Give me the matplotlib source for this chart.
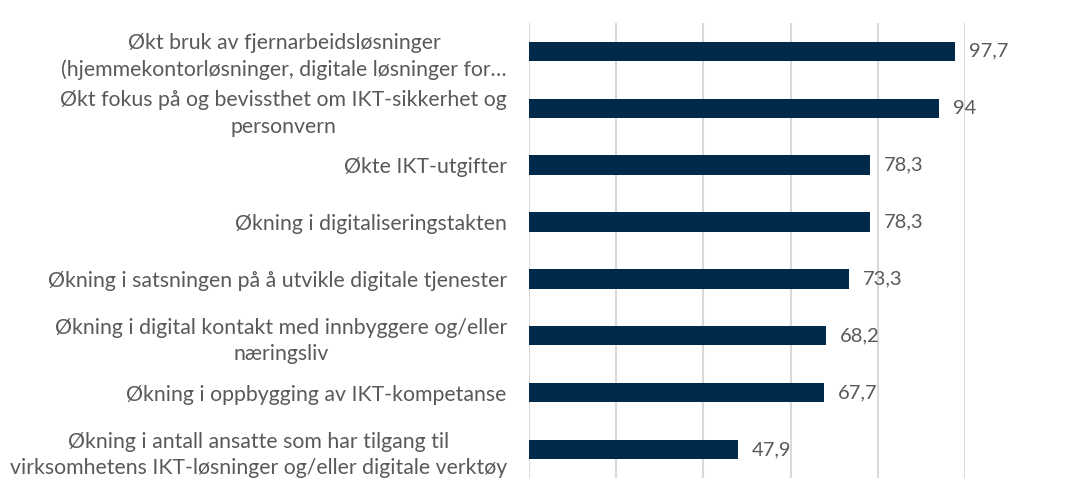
import matplotlib.pyplot as plt

# categories top to bottom, as in the reference
categories = [
    "Økt bruk av fjernarbeidsløsninger\n(hjemmekontorløsninger, digitale løsninger for…",
    "Økt fokus på og bevissthet om IKT-sikkerhet og\npersonvern",
    "Økte IKT-utgifter",
    "Økning i digitaliseringstakten",
    "Økning i satsningen på å utvikle digitale tjenester",
    "Økning i digital kontakt med innbyggere og/eller\nnæringsliv",
    "Økning i oppbygging av IKT-kompetanse",
    "Økning i antall ansatte som har tilgang til\nvirksomhetens IKT-løsninger og/eller digitale verktøy",
]
values = [97.7, 94, 78.3, 78.3, 73.3, 68.2, 67.7, 47.9]
value_labels = ["97,7", "94", "78,3", "78,3", "73,3", "68,2", "67,7", "47,9"]

BAR_COLOR = "#002a4c"
TEXT_COLOR = "#595959"
GRID_COLOR = "#d9d9d9"

plt.rcParams["font.family"] = ["Lato", "DejaVu Sans"]

fig = plt.figure(figsize=(10.71, 4.92), dpi=100)
ax = fig.add_axes([0.494, 0.0285, 0.407, 0.925])

ypos = list(range(len(categories)))
ax.barh(ypos, values, height=0.34, color=BAR_COLOR, zorder=3)

for y, v, lab in zip(ypos, values, value_labels):
    ax.annotate(lab, (v, y), xytext=(10, 0), textcoords="offset points",
                va="center", ha="left", fontsize=14.5, color=TEXT_COLOR)

ax.set_xlim(0, 100)
ax.set_ylim(len(categories) - 0.5, -0.5)
ax.set_xticks(range(0, 101, 20))
ax.xaxis.grid(True, color=GRID_COLOR, linewidth=1.5, zorder=0)
ax.tick_params(axis="x", length=0, labelbottom=False)
ax.tick_params(axis="y", length=0, pad=16)
ax.set_yticks(ypos)
ax.set_yticklabels(categories, fontsize=15.3, color=TEXT_COLOR,
                   multialignment="center", linespacing=1.4)
for side in ["top", "right", "bottom", "left"]:
    ax.spines[side].set_visible(False)

fig.savefig("out.png", dpi=100)
